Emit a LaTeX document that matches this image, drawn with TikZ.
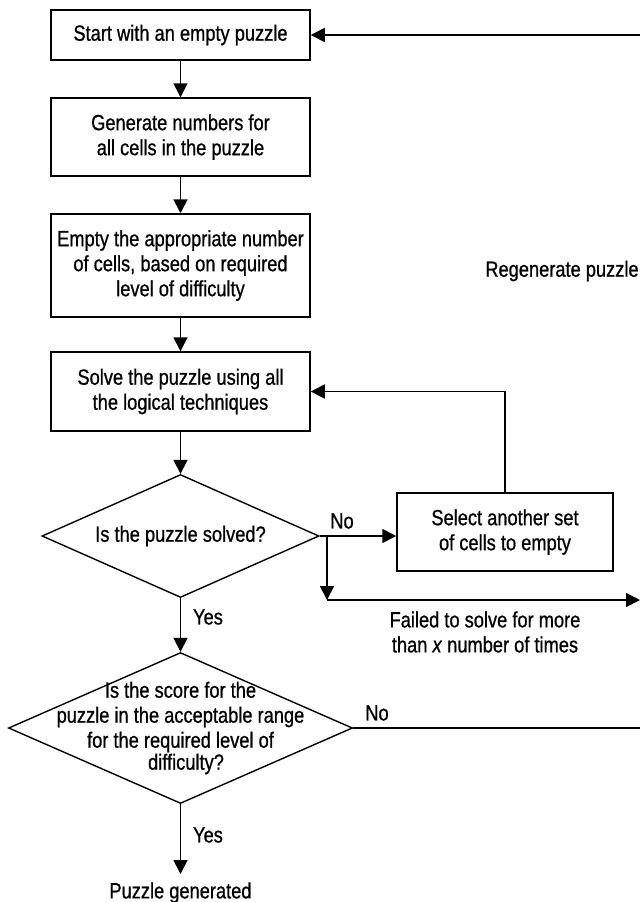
\documentclass[tikz,border=0pt]{standalone}
\usepackage{fontspec}
\setmainfont{Liberation Sans}[FakeStretch=0.83,FakeBold=0.8]
\usetikzlibrary{arrows.meta,shapes.geometric}
\begin{document}
\begin{tikzpicture}[x=0.5pt,y=-0.5pt,
  every node/.style={font=\fontsize{11}{12.5}\selectfont},
  box/.style={draw,line width=0.75pt,minimum width=129.5pt,inner sep=0pt,align=center},
  dia/.style={draw,line width=0.7pt,shape=diamond,inner sep=0pt},
  lbl/.style={inner sep=0pt,align=center},
  arr/.style={line width=0.85pt,-{Triangle[length=7pt,width=7pt]}},
  ln/.style={line width=0.85pt}]
\useasboundingbox (0,0) rectangle (640,902);
% boxes
\node[box,minimum height=25pt] (b1) at (180.5,35) {Start with an empty puzzle};
\node[box,minimum height=39pt] (b2) at (180.5,137) {Generate numbers for\\all cells in the puzzle};
\node[box,minimum height=51.5pt] (b3) at (180.5,265.5) {Empty the appropriate number\\of cells, based on required\\level of difficulty};
\node[box,minimum height=39.5pt] (b4) at (180.5,391.5) {Solve the puzzle using all\\the logical techniques};
\node[dia,minimum width=138.5pt,minimum height=61.5pt] (d1) at (180.5,536) {};
\node[lbl] (d1t) at (d1.center) {Is the puzzle solved?};
\node[box,minimum width=108pt,minimum height=39pt] (sel) at (505,532) {Select another set\\of cells to empty};
\node[dia,minimum width=172pt,minimum height=75.5pt] (d2) at (180.5,728) {};
\node[lbl] (d2t) at (180.5,717) {Is the score for the\\puzzle in the acceptable range\\for the required level of};
\node[lbl] (d2u) at (186,764) {difficulty?};
\node[inner xsep=0pt,inner ysep=4pt,anchor=north] (pg) at (180.5,874) {Puzzle generated};
% labels
\node[lbl] (y1) at (208,617) {Yes};
\node[lbl] (y2) at (208,835) {Yes};
\node[lbl] (n1) at (342,521) {No};
\node[lbl] (n2) at (377,713) {No};
\node[lbl] (fl) at (485,632) {Failed to solve for more\\than \textit{x} number of times};
\node[lbl] (rg) at (562,271) {Regenerate puzzle};
% coordinates
\coordinate (re1) at (640,35);
\coordinate (j) at (327,536);
\coordinate (jb) at (327,600);
\coordinate (re3) at (640,600);
\coordinate (re2) at (640,728);
% connectors
\draw[arr] (b1) -- (b2);
\draw[arr] (b2) -- (b3);
\draw[arr] (b3) -- (b4);
\draw[arr] (b4) -- (d1.north);
\draw[arr] (d1.south) -- (d2.north);
\draw[arr] (d2.south) -- (pg.north);
\draw[arr] (d1.east) -- (d1.east -| sel.west);
\draw[arr] (j) -- (jb);
\draw[arr] (jb) -- (re3);
\draw[arr] (sel.north) |- (b4.east);
\draw[arr] (re1) -- (b1.east);
\draw[ln] (d2.east) -- (re2);
\end{tikzpicture}
\end{document}
